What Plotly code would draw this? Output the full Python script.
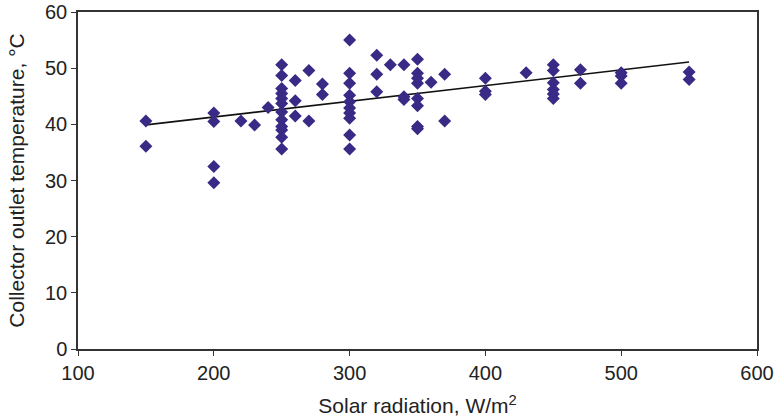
import plotly.graph_objects as go

radiation = [150, 150,
             200, 200, 200, 200,
             220, 230, 240,
             250, 250, 250, 250, 250, 250, 250, 250, 250, 250, 250, 250,
             260, 260, 260,
             270, 270,
             280, 280,
             300, 300, 300, 300, 300, 300, 300, 300, 300, 300,
             320, 320, 320,
             330,
             340, 340, 340,
             350, 350, 350, 350, 350, 350, 350, 350,
             360,
             370, 370,
             400, 400, 400,
             430,
             450, 450, 450, 450, 450, 450,
             470, 470,
             500, 500, 500,
             550, 550]
temperature = [40.6, 36.1,
               42.0, 40.5, 32.5, 29.6,
               40.6, 39.9, 43.0,
               50.6, 48.7, 46.4, 45.5, 44.6, 43.7, 42.2, 40.8, 39.6, 39.0, 37.7, 35.6,
               47.8, 44.2, 41.5,
               49.6, 40.6,
               47.2, 45.3,
               55.0, 49.1, 47.3, 45.2, 44.0, 42.9, 42.0, 41.1, 38.1, 35.6,
               52.3, 48.9, 45.8,
               50.6,
               50.6, 44.9, 44.4,
               51.6, 49.1, 48.2, 47.3, 44.6, 43.3, 39.6, 39.2,
               47.5,
               48.9, 40.6,
               48.2, 45.9, 45.3,
               49.2,
               50.6, 49.6, 47.4, 46.2, 45.4, 44.6,
               49.7, 47.3,
               49.2, 48.6, 47.3,
               49.3, 48.0]

trend_x = [150, 550]
trend_y = [39.9, 51.1]

x_ticks = [100, 200, 300, 400, 500, 600]
y_ticks = [0, 10, 20, 30, 40, 50, 60]

fig = go.Figure()
fig.add_trace(go.Scatter(
    x=trend_x, y=trend_y, mode="lines",
    line=dict(color="#111111", width=1.6), showlegend=False, hoverinfo="skip"))
fig.add_trace(go.Scatter(
    x=radiation, y=temperature, mode="markers",
    marker=dict(symbol="diamond", size=10, color="#392a86", line=dict(width=0)),
    showlegend=False))

tick_font = dict(family="Liberation Sans, Arial, sans-serif", size=20, color="#222222")
title_font = dict(family="Liberation Sans, Arial, sans-serif", size=21, color="#222222")
axis_common = dict(
    showgrid=False, zeroline=False, showline=True, linecolor="#333333", linewidth=1.5,
    mirror=True, ticks="outside", ticklen=5, tickcolor="#333333", tickwidth=1.2,
    tickfont=tick_font, automargin=False)

fig.update_layout(
    width=775, height=420,
    margin=dict(l=78, r=18, t=12, b=71),
    paper_bgcolor="white", plot_bgcolor="white",
    font=tick_font,
    xaxis=dict(range=[100, 600], tickvals=x_ticks,
               title=dict(text="Solar radiation, W/m<sup>2</sup>", font=title_font, standoff=16),
               **axis_common),
    yaxis=dict(range=[0, 60], tickvals=y_ticks,
               title=dict(text="Collector outlet temperature, °C", font=title_font, standoff=15),
               **axis_common),
)

fig.write_html("out.html", config={"displayModeBar": False},
               post_script="document.body.style.margin='0';")
